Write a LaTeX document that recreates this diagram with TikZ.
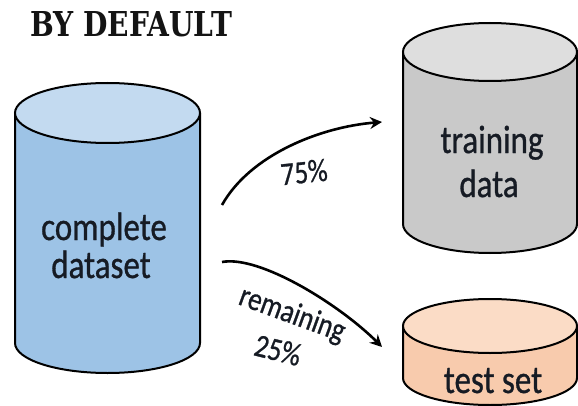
\documentclass[tikz,border=0pt]{standalone}
\usepackage{fontspec}
\setmainfont{Carlito}
\newfontfamily\heavy{Carlito}[BoldFont=Carlito, BoldFeatures={FakeBold=0.9}]
\newfontfamily\titlefont{DejaVu Serif}
\usetikzlibrary{arrows.meta}
\definecolor{blueBody}{HTML}{9DC3E6}
\definecolor{blueTop}{HTML}{C3DAF0}
\definecolor{grayBody}{HTML}{C9C9C9}
\definecolor{grayTop}{HTML}{DEDEDE}
\definecolor{peachBody}{HTML}{F8CBAD}
\definecolor{peachTop}{HTML}{FBDCC6}
\definecolor{inkText}{HTML}{161B24}
\newcommand\mycyl[7]{%
  % #1 cx, #2 rx, #3 top centre y, #4 bottom centre y, #5 ry, #6 body, #7 top
  \filldraw[fill=#6, cylline] (#1-#2,#3) -- (#1-#2,#4)
    arc[start angle=180, end angle=360, x radius=#2pt, y radius=#5pt]
    -- (#1+#2,#3);
  \filldraw[fill=#7, cylline] (#1,#3) ellipse[x radius=#2pt, y radius=#5pt];
}
\newcommand\tall[1]{\scalebox{1}[1.2]{#1}}
\tikzset{
  cylline/.style={draw=black, line width=2pt},
  cyltext/.style={font=\heavy\bfseries\fontsize{33}{36}\selectfont, text=inkText, anchor=base, inner sep=0pt},
  flow/.style={line width=2.6pt, -{Stealth[length=12pt,width=12pt,inset=4pt]}},
  flowlabel/.style={font=\heavy\bfseries\fontsize{27}{29}\selectfont, text=inkText, inner sep=0pt}
}
\begin{document}
\begin{tikzpicture}[x=1pt,y=1pt]
\fill[white] (0,0) rectangle (578,405);
\useasboundingbox (0,0) rectangle (578,405);
% title
\node[anchor=base west, inner sep=0pt, text=black!92] (title) at (30,368)
  {\resizebox{202pt}{25pt}{\titlefont\bfseries BY DEFAULT}};
% cylinders
\mycyl{107.5}{92.5}{292}{62}{30}{blueBody}{blueTop}
\mycyl{490}{87}{353}{181}{29}{grayBody}{grayTop}
\mycyl{490}{87}{79}{27}{27}{peachBody}{peachTop}
% cylinder texts
\node[cyltext] (complete) at (104,165) {\tall{complete}};
\node[cyltext] (dataset) at (101,127) {\tall{dataset}};
\node[cyltext] (training) at (492,252) {\tall{training}};
\node[cyltext] (data) at (489,208) {\tall{data}};
\node[cyltext] (testset) at (493,12) {\tall{test set}};
% arrow anchors
\coordinate (s1) at (222,200);
\coordinate (e1) at (382,283);
\coordinate (s2) at (222,143);
\coordinate (e2) at (382,58);
\draw[flow] (s1) .. controls (250,250) and (320,278) .. (e1);
\draw[flow] (s2) .. controls (260,150) and (340,100) .. (e2);
% labels
\node[flowlabel, rotate=6] (p75) at (304,233) {\tall{75\%}};
\node[flowlabel, rotate=-20] (rem) at (292,90) {\tall{remaining}};
\node[flowlabel, rotate=-14] (p25) at (278,55) {\tall{25\%}};
\end{tikzpicture}
\end{document}
